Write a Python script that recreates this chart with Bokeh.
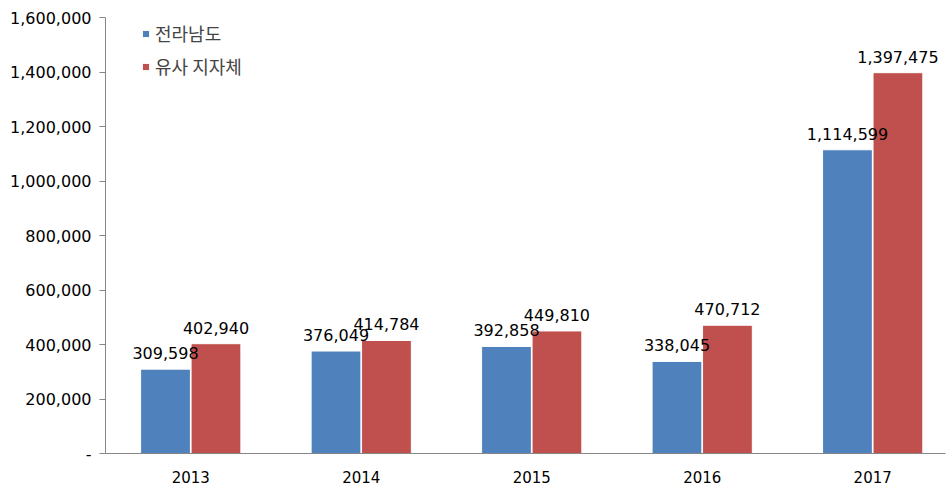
from bokeh.plotting import figure
from bokeh.models import ColumnDataSource, LabelSet, Legend, LegendItem, FixedTicker, NumeralTickFormatter
from bokeh.transform import dodge
from bokeh.core.properties import value
from bokeh.embed import file_html
from bokeh.resources import INLINE

years = ["2013", "2014", "2015", "2016", "2017"]
jeonnam = [309598, 376049, 392858, 338045, 1114599]
similar = [402940, 414784, 449810, 470712, 1397475]
series_names = ["전라남도", "유사 지자체"]
y_ticks = [0, 200000, 400000, 600000, 800000, 1000000, 1200000, 1400000, 1600000]

FONT = "'Noto Sans CJK KR', 'Noto Sans', sans-serif"
NUMFONT = "'DejaVu Sans', sans-serif"
BLUE = "#4F81BD"
RED = "#C0504D"

xpos = list(range(len(years)))
src = ColumnDataSource(dict(
    x=xpos,
    a=jeonnam,
    b=similar,
    a_lbl=[f"{v:,}" for v in jeonnam],
    b_lbl=[f"{v:,}" for v in similar],
))

p = figure(width=947, height=493, output_backend="svg", toolbar_location=None,
           x_range=(-0.5, 4.427), y_range=(0, 1600000),
           min_border_left=105, min_border_right=2, min_border_top=17, min_border_bottom=40)
p.outline_line_color = None
p.xgrid.visible = False
p.ygrid.visible = False

off = 0.148
w = 0.292
r1 = p.vbar(x=dodge("x", -off), top="a", width=w, source=src, fill_color=BLUE, line_color="white", line_width=1)
r2 = p.vbar(x=dodge("x", off), top="b", width=w, source=src, fill_color=RED, line_color="white", line_width=1)

for col, lbl, o in (("a", "a_lbl", -off), ("b", "b_lbl", off)):
    ls = LabelSet(x=dodge("x", o), y=col, text=lbl, source=src, text_align="center",
                  text_baseline="alphabetic", y_offset=10, text_font=value(NUMFONT),
                  text_font_size=value("16px"), text_color="#000000")
    p.add_layout(ls)

# axes
p.yaxis.ticker = FixedTicker(ticks=y_ticks)
p.yaxis.formatter = NumeralTickFormatter(format="0,0")
p.yaxis.major_label_overrides = {0: "-"}
p.yaxis.major_label_text_font = NUMFONT
p.yaxis.major_label_text_font_size = "16px"
p.yaxis.major_label_text_color = "#000000"
p.yaxis.axis_line_color = "#868686"
p.yaxis.major_tick_line_color = "#868686"
p.yaxis.major_tick_out = 6
p.yaxis.major_tick_in = 0
p.yaxis.minor_tick_line_color = None
p.yaxis.major_label_standoff = 8

p.xaxis.ticker = FixedTicker(ticks=xpos)
p.xaxis.major_label_overrides = {i: y for i, y in enumerate(years)}
p.xaxis.major_label_text_font = NUMFONT
p.xaxis.major_label_text_font_size = "15px"
p.xaxis.major_label_text_color = "#000000"
p.xaxis.axis_line_color = "#868686"
p.xaxis.major_tick_line_color = None
p.xaxis.minor_tick_line_color = None
p.xaxis.major_label_standoff = 11

legend = Legend(items=[LegendItem(label=series_names[0], renderers=[r1]),
                       LegendItem(label=series_names[1], renderers=[r2])],
                location=(36, 374), orientation="vertical",
                label_text_font=FONT, label_text_font_size="18px",
                glyph_width=9, glyph_height=9, label_height=20, spacing=7,
                padding=0, margin=0, border_line_color=None, background_fill_alpha=0,
                label_standoff=5)
p.add_layout(legend)

open("out.html", "w").write(file_html(p, INLINE))
